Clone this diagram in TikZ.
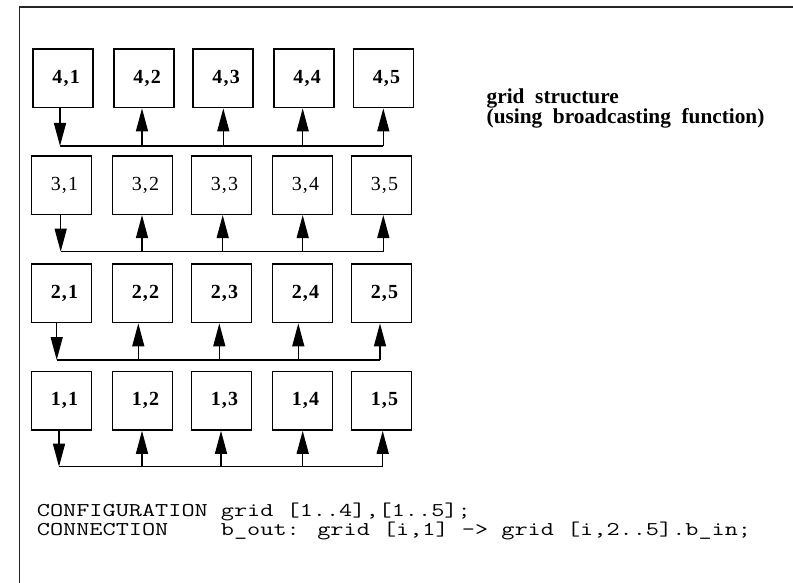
\documentclass[tikz,border=0pt]{standalone}
\usepackage{fontspec}
\setmainfont{Liberation Serif}
\usepackage{graphicx}
\usetikzlibrary{arrows.meta}
\tikzset{
  cell/.style={draw=black, line width=1.6pt, minimum width=60pt, minimum height=58.5pt, inner sep=0pt, anchor=north west},
  lblb/.style={font=\fontsize{20}{20}\selectfont\bfseries},
  lblr/.style={font=\fontsize{20}{20}\selectfont},
  arr/.style={line width=1.4pt, -{Triangle[length=23pt,width=12pt]}},
  bus/.style={line width=1.4pt},
  codetxt/.style={font=\fontsize{19.5}{19}\selectfont\ttfamily, anchor=north west, inner sep=0pt, align=left},
  headtxt/.style={font=\fontsize{21.3}{19.5}\selectfont\bfseries, anchor=north west, inner sep=0pt, align=left}
}
\AtBeginDocument{\lineskiplimit=-100pt\relax}
\newcommand{\lab}[2]{#1\kern1.2pt,\kern1.2pt#2}
\newcommand{\wide}[1]{\scalebox{1.309}[1]{#1}}
\begin{document}
\begin{tikzpicture}[x=1pt,y=-1pt]
\useasboundingbox (0,0) rectangle (793,583);
% frame (top and left edges)
\draw[line width=1.6pt, black!85] (19.5,583) -- (19.5,7) -- (793,7);

% row 4
\foreach \j/\x in {1/32.3,2/113.3,3/192.3,4/273.3,5/352.7}{
  \node[cell] (b4\j) at (\x,48.3) {};
  \node[lblb] (t4\j) at ([xshift=3pt]b4\j.center) {\lab{4}{\j}};
}
% row 3
\foreach \j/\x in {1/30.7,2/111.7,3/190.7,4/271.7,5/350.7}{
  \node[cell] (b3\j) at (\x,155) {};
  \node[lblr] (t3\j) at ([xshift=3pt]b3\j.center) {\lab{3}{\j}};
}
% row 2
\foreach \j/\x in {1/30.7,2/111.7,3/190.7,4/271.7,5/350.7}{
  \node[cell] (b2\j) at (\x,263.3) {};
  \node[lblb] (t2\j) at ([xshift=3pt]b2\j.center) {\lab{2}{\j}};
}
% row 1
\foreach \j/\x in {1/30.7,2/111.7,3/190.7,4/271.7,5/350.7}{
  \node[cell] (b1\j) at (\x,370.7) {};
  \node[lblb] (t1\j) at ([xshift=3pt]b1\j.center) {\lab{1}{\j}};
}

% bus coordinates
\foreach \j/\x in {1/60,2/142,3/223.3,4/302.7,5/383.3}{\coordinate (u4\j) at (\x,146);}
\foreach \j/\x in {1/60.7,2/142,3/222.7,4/302.7,5/383.3}{\coordinate (u3\j) at (\x,251.7);}
\foreach \j/\x in {1/56.7,2/138.3,3/219.3,4/298.3,5/380}{\coordinate (u2\j) at (\x,360);}
\foreach \j/\x in {1/59,2/142,3/221,4/302.7,5/382.7}{\coordinate (u1\j) at (\x,466.7);}

\foreach \r in {1,2,3,4}{
  \draw[bus] (u\r1) -- (u\r5);
  \draw[arr] (b\r1.south -| u\r1) -- (u\r1);
  \foreach \j in {2,3,4,5}{
    \draw[arr] (u\r\j) -- (b\r\j.south -| u\r\j);
  }
}

% heading
\node[headtxt] (head) at (486.5,89) {grid\hspace{0.5em}structure\\(using\hspace{0.5em}broadcasting\hspace{0.5em}function)};

% code text
\node[codetxt] (code) at (36.7,500) {\rule{0pt}{16pt}\wide{CONFIGURATION grid [1..4],[1..5];}\\
\wide{CONNECTION\ \ \ \ b\_out: grid [i,1] -> grid [i,2..5].b\_in;}};
\end{tikzpicture}
\end{document}
